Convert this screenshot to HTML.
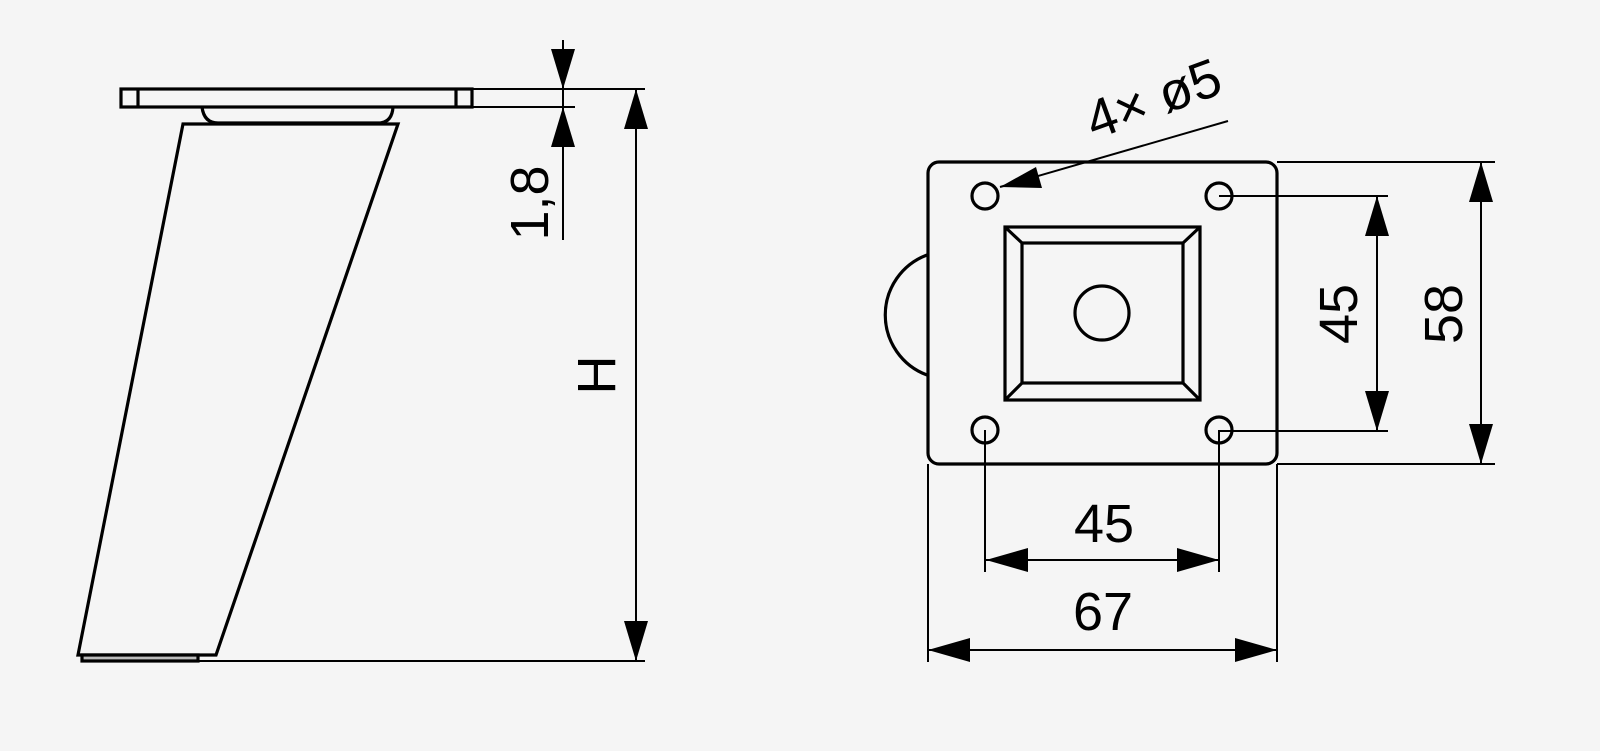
<!DOCTYPE html>
<html><head><meta charset="utf-8"><style>
html,body{margin:0;padding:0;background:#f5f5f5;}
svg{display:block;}
text{font-family:"Liberation Sans",Arial,sans-serif;font-size:54px;fill:#000;}
</style></head><body>
<svg width="1600" height="751" viewBox="0 0 1600 751" xmlns="http://www.w3.org/2000/svg">
<rect width="1600" height="751" fill="#f5f5f5"/>
<g fill="none" stroke="#000" stroke-width="3.2" stroke-linejoin="miter">
  <rect x="121" y="89" width="351" height="18"/>
  <line x1="138" y1="89" x2="138" y2="107"/>
  <line x1="456" y1="89" x2="456" y2="107"/>
  <path d="M202 107 Q204 123 218 123 L378 123 Q392 123 393 107"/>
  <path d="M183 124 L398 124 L216 655 L78 655 Z"/>
  <rect x="82" y="655" width="116" height="6" fill="#bbb"/>
  <rect x="928" y="162" width="349" height="302" rx="11"/>
  <path d="M927 255 A64 64 0 0 0 927 375"/>
  <circle cx="985" cy="196" r="13"/>
  <circle cx="1219" cy="196" r="13"/>
  <circle cx="985" cy="430" r="13"/>
  <circle cx="1219" cy="430" r="13"/>
  <rect x="1005" y="227" width="195" height="173"/>
  <rect x="1022" y="243" width="161" height="140"/>
  <line x1="1005" y1="227" x2="1022" y2="243"/>
  <line x1="1200" y1="227" x2="1183" y2="243"/>
  <line x1="1005" y1="400" x2="1022" y2="383"/>
  <line x1="1200" y1="400" x2="1183" y2="383"/>
  <circle cx="1102" cy="313" r="27"/>
</g>
<g fill="none" stroke="#000" stroke-width="2">
  <line x1="472" y1="89" x2="645" y2="89"/>
  <line x1="472" y1="107" x2="575" y2="107"/>
  <line x1="198" y1="661" x2="645" y2="661"/>
  <line x1="636" y1="89" x2="636" y2="661"/>
  <line x1="563" y1="40" x2="563" y2="107"/>
  <line x1="563" y1="107" x2="563" y2="240"/>
  <line x1="1228" y1="121" x2="1000" y2="187"/>
  <line x1="1219" y1="196" x2="1388" y2="196"/>
  <line x1="1219" y1="431" x2="1388" y2="431"/>
  <line x1="1377" y1="196" x2="1377" y2="431"/>
  <line x1="1277" y1="162" x2="1495" y2="162"/>
  <line x1="1277" y1="464" x2="1495" y2="464"/>
  <line x1="1481" y1="162" x2="1481" y2="464"/>
  <line x1="985" y1="430" x2="985" y2="572"/>
  <line x1="1219" y1="430" x2="1219" y2="572"/>
  <line x1="986" y1="560" x2="1219" y2="560"/>
  <line x1="928" y1="464" x2="928" y2="662"/>
  <line x1="1277" y1="464" x2="1277" y2="662"/>
  <line x1="928" y1="650" x2="1277" y2="650"/>
</g>
<g fill="#000" stroke="none">
  <polygon points="636,89 624,129 648,129"/>
  <polygon points="636,661 624,621 648,621"/>
  <polygon points="563,89 551,49 575,49"/>
  <polygon points="563,107 551,147 575,147"/>
  <polygon points="1000,187 1036,167 1042,188"/>
  <polygon points="1377,196 1365,236 1389,236"/>
  <polygon points="1377,431 1365,391 1389,391"/>
  <polygon points="1481,162 1469,202 1493,202"/>
  <polygon points="1481,464 1469,424 1493,424"/>
  <polygon points="986,560 1028,548 1028,572"/>
  <polygon points="1219,560 1177,548 1177,572"/>
  <polygon points="928,650 970,638 970,662"/>
  <polygon points="1277,650 1235,638 1235,662"/>
</g>
<text transform="translate(548,203) rotate(-90)" text-anchor="middle">1,8</text>
<text transform="translate(615,375) rotate(-90)" text-anchor="middle">H</text>
<text transform="translate(1357,314) rotate(-90)" text-anchor="middle">45</text>
<text transform="translate(1462,314) rotate(-90)" text-anchor="middle">58</text>
<text x="1104" y="542" text-anchor="middle">45</text>
<text x="1103" y="630" text-anchor="middle">67</text>
<text transform="translate(1094,140) rotate(-20)">4× ø5</text>
</svg>
</body></html>
